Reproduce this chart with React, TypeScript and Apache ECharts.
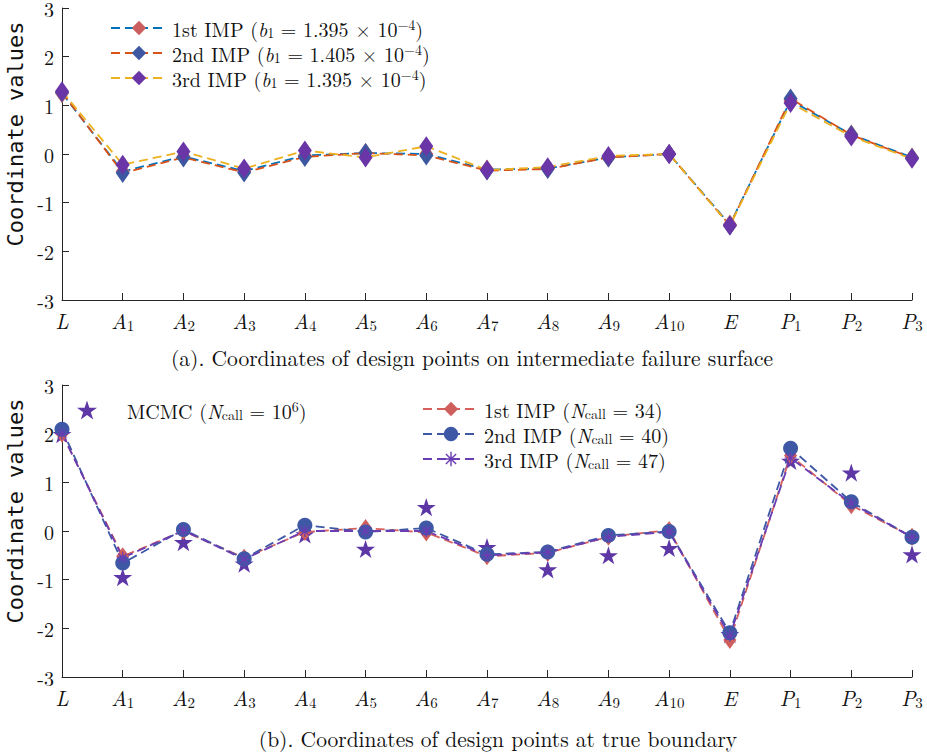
import React, { useEffect, useRef } from "react";
import * as echarts from "echarts";

const categories = ["L", "A1", "A2", "A3", "A4", "A5", "A6", "A7", "A8", "A9", "A10", "E", "P1", "P2", "P3"];
const yTicks = [-3, -2, -1, 0, 1, 2, 3];

// (a) intermediate failure surface
const topImp1 = [1.25, -0.36, -0.05, -0.35, -0.03, 0.02, 0.0, -0.32, -0.3, -0.07, 0.0, -1.45, 1.1, 0.4, -0.07];
const topImp2 = [1.27, -0.39, -0.07, -0.38, -0.06, 0.02, -0.03, -0.34, -0.31, -0.07, 0.0, -1.47, 1.14, 0.39, -0.08];
const topImp3 = [1.29, -0.22, 0.05, -0.3, 0.07, -0.07, 0.16, -0.33, -0.27, -0.04, 0.0, -1.47, 1.05, 0.36, -0.1];

// (b) true boundary
const botMcmc = [1.99, -0.95, -0.23, -0.67, -0.07, -0.37, 0.49, -0.33, -0.79, -0.5, -0.35, -2.12, 1.44, 1.2, -0.48];
const botImp1 = [2.0, -0.52, 0.0, -0.55, -0.02, 0.06, -0.03, -0.52, -0.45, -0.12, 0.02, -2.24, 1.55, 0.53, -0.12];
const botImp2 = [2.09, -0.66, 0.03, -0.57, 0.12, -0.02, 0.06, -0.48, -0.43, -0.09, -0.01, -2.09, 1.7, 0.6, -0.13];
const botImp3 = [2.0, -0.55, 0.01, -0.58, 0.0, 0.0, 0.0, -0.5, -0.44, -0.12, -0.02, -2.15, 1.5, 0.57, -0.13];

const captionA = "(a). Coordinates of design points on intermediate failure surface";
const captionB = "(b). Coordinates of design points at true boundary";
const yName = "Coordinate values";

const SERIF = "Latin Modern Roman";
const MONO = "DejaVu Sans Mono";
const AXIS = "#262626";
const TXT = "#111111";

const STAR =
  "path://M50 0 L61.23 34.55 L97.55 34.55 L68.17 55.9 L79.39 90.45 L50 69.1 L20.61 90.45 L31.83 55.9 L2.45 34.55 L38.77 34.55 Z";
const ASTERISK =
  "path://M9 0H11V20H9Z M0 9H20V11H0Z M3.64 2.22L17.78 16.36L16.36 17.78L2.22 3.64Z M16.36 2.22L17.78 3.64L3.64 17.78L2.22 16.36Z";

const legendLabels: Record<string, string> = {
  "1st IMP a": "{n|1st IMP (}{i|b}{sub|1}{n| = 1.395 × 10}{sup|−4}{n|)}",
  "2nd IMP a": "{n|2nd IMP (}{i|b}{sub|1}{n| = 1.405 × 10}{sup|−4}{n|)}",
  "3rd IMP a": "{n|3rd IMP (}{i|b}{sub|1}{n| = 1.395 × 10}{sup|−4}{n|)}",
  "MCMC b": "{sp| }{n|MCMC (}{i|N}{sub|call}{n| = 10}{sup|6}{n|)}",
  "1st IMP b": "{n|1st IMP (}{i|N}{sub|call}{n| = 34)}",
  "2nd IMP b": "{n|2nd IMP (}{i|N}{sub|call}{n| = 40)}",
  "3rd IMP b": "{n|3rd IMP (}{i|N}{sub|call}{n| = 47)}",
};

const legendRich = {
  n: { fontFamily: SERIF, fontSize: 20, lineHeight: 22, color: TXT },
  i: { fontFamily: SERIF, fontStyle: "italic", fontSize: 20, lineHeight: 22, color: TXT },
  sub: { fontFamily: SERIF, fontSize: 14, lineHeight: 11, verticalAlign: "bottom", color: TXT },
  sup: { fontFamily: SERIF, fontSize: 14, lineHeight: 12, verticalAlign: "top", color: TXT },
  sp: { width: 25, fontSize: 10 },
};

const catLabel = (v: string) => {
  const m = v.match(/^([A-Z])(\d*)$/);
  if (!m) return v;
  return m[2] ? `{i|${m[1]}}{s|${m[2]}}` : `{i|${m[1]}}`;
};

const catRich = {
  i: { fontFamily: SERIF, fontStyle: "italic", fontSize: 21, lineHeight: 24, color: TXT },
  s: { fontFamily: SERIF, fontSize: 15, lineHeight: 11, verticalAlign: "bottom", color: TXT },
};

const makeX = (gi: number) => ({
  type: "category",
  gridIndex: gi,
  data: categories,
  boundaryGap: false,
  axisLine: { onZero: false, lineStyle: { color: AXIS, width: 1 } },
  axisTick: { inside: true, length: 7, interval: 0, lineStyle: { color: AXIS, width: 1 } },
  axisLabel: { interval: 0, margin: 8, formatter: catLabel, rich: catRich },
  splitLine: { show: false },
});

const makeY = (gi: number) => ({
  type: "value",
  gridIndex: gi,
  min: yTicks[0],
  max: yTicks[yTicks.length - 1],
  interval: 1,
  name: yName,
  nameLocation: "middle",
  nameRotate: 90,
  nameGap: 34,
  nameTextStyle: { fontFamily: MONO, fontSize: 22, color: TXT, padding: [0, 0, 0, 40] },
  axisLine: { show: true, lineStyle: { color: AXIS, width: 1 } },
  axisTick: { show: true, inside: true, length: 7, lineStyle: { color: AXIS, width: 1 } },
  axisLabel: { margin: 8, fontFamily: SERIF, fontSize: 20, color: TXT },
  splitLine: { show: false },
});

const dash = [9, 5];

const lineSeries = (
  name: string,
  data: number[],
  gi: number,
  lineColor: string,
  markColor: string,
  symbol: string,
  symbolSize: number | number[]
) => ({
  type: "line",
  name,
  xAxisIndex: gi,
  yAxisIndex: gi,
  data,
  symbol,
  symbolSize,
  symbolKeepAspect: true,
  showAllSymbol: true,
  lineStyle: { color: lineColor, width: 1.8, type: dash },
  itemStyle: { color: markColor, opacity: 1 },
  emphasis: { disabled: true },
});

export default function App() {
  const ref = useRef<HTMLDivElement>(null);
  useEffect(() => {
    if (!ref.current) return;
    const chart = echarts.init(ref.current, undefined, { renderer: "svg" });
    const option: any = {
      animation: false,
      grid: [
        { left: 62, top: 8, width: 850, height: 292, containLabel: false, outerBoundsMode: "none" },
        { left: 62, top: 385, width: 850, height: 292, containLabel: false, outerBoundsMode: "none" },
      ],
      xAxis: [makeX(0), makeX(1)],
      yAxis: [makeY(0), makeY(1)],
      legend: [
        {
          orient: "vertical",
          left: 110,
          top: 17,
          padding: 0,
          itemGap: 3,
          itemWidth: 56,
          itemHeight: 18,
          selectedMode: false,
          data: ["1st IMP a", "2nd IMP a", "3rd IMP a"],
          formatter: (n: string) => legendLabels[n],
          textStyle: { rich: legendRich },
        },
        {
          orient: "vertical",
          left: 77,
          top: 399,
          padding: 0,
          itemWidth: 20,
          itemHeight: 20,
          selectedMode: false,
          data: ["MCMC b"],
          formatter: (n: string) => legendLabels[n],
          textStyle: { rich: legendRich },
        },
        {
          orient: "vertical",
          left: 422,
          top: 399,
          padding: 0,
          itemGap: 4,
          itemWidth: 56,
          itemHeight: 18,
          selectedMode: false,
          data: ["1st IMP b", "2nd IMP b", "3rd IMP b"],
          formatter: (n: string) => legendLabels[n],
          textStyle: { rich: legendRich },
        },
      ],
      series: [
        lineSeries("1st IMP a", topImp1, 0, "#0072BD", "#CB5F5F", "diamond", [14, 20]),
        lineSeries("2nd IMP a", topImp2, 0, "#D95319", "#3D58A0", "diamond", [14, 20]),
        lineSeries("3rd IMP a", topImp3, 0, "#EDB120", "#6A35A6", "diamond", [14, 20]),
        lineSeries("1st IMP b", botImp1, 1, "#D6605C", "#CF5F5D", "diamond", [13, 18]),
        lineSeries("2nd IMP b", botImp2, 1, "#3E58A6", "#3E58A6", "circle", 15),
        lineSeries("3rd IMP b", botImp3, 1, "#6B3DB3", "#6B3DB3", ASTERISK, 12),
        {
          type: "scatter",
          name: "MCMC b",
          xAxisIndex: 1,
          yAxisIndex: 1,
          data: botMcmc,
          symbol: STAR,
          symbolSize: 19,
          symbolKeepAspect: true,
          itemStyle: { color: "#5E37A6", opacity: 1 },
          emphasis: { disabled: true },
        },
      ],
      graphic: [
        {
          type: "text",
          x: 472,
          y: 357,
          style: {
            text: captionA,
            fontFamily: SERIF,
            fontSize: 21.5,
            fill: TXT,
            align: "center",
            verticalAlign: "middle",
          },
        },
        {
          type: "text",
          x: 498,
          y: 738,
          style: {
            text: captionB,
            fontFamily: SERIF,
            fontSize: 21.5,
            fill: TXT,
            align: "center",
            verticalAlign: "middle",
          },
        },
      ],
    };
    chart.setOption(option);
    return () => chart.dispose();
  }, []);
  return (
    <div
      ref={ref}
      style={{ position: "fixed", left: 0, top: 0, width: 927, height: 755, background: "#fff" }}
    />
  );
}
